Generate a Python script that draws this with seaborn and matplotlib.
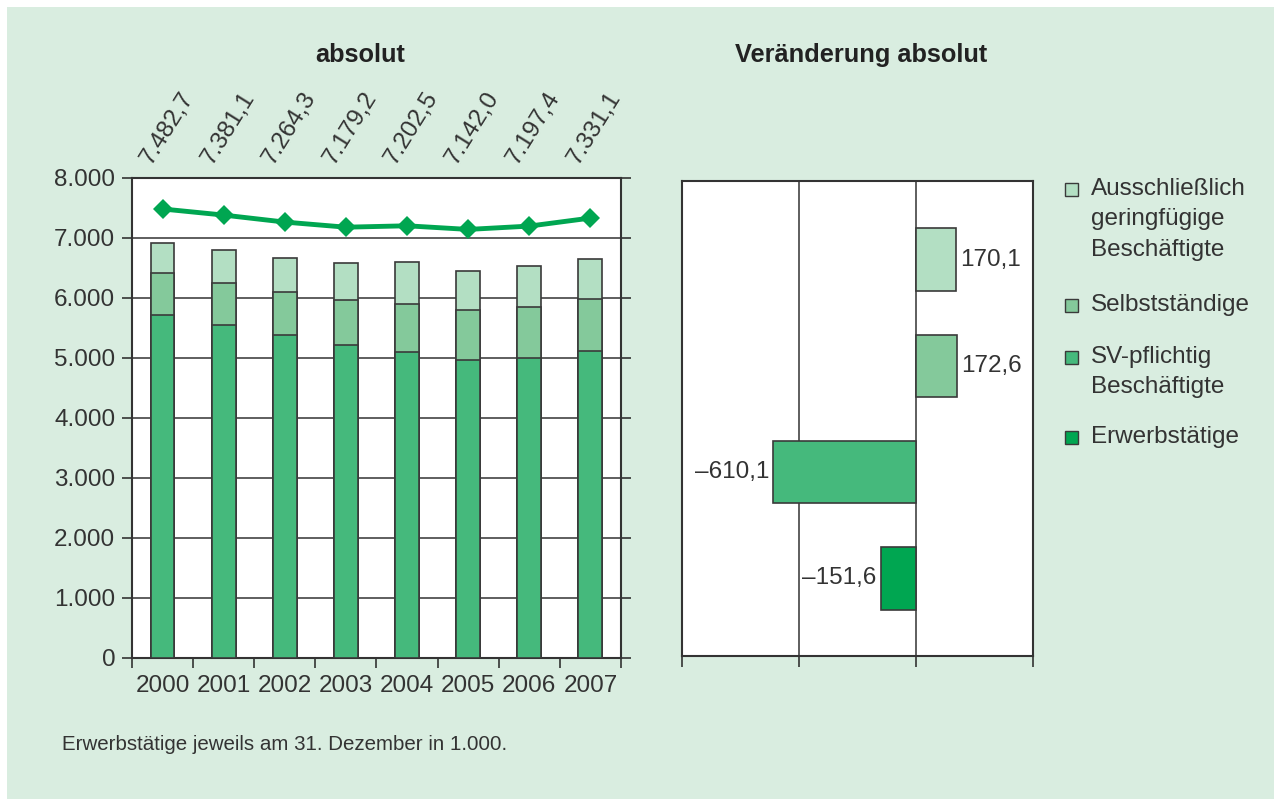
import matplotlib
matplotlib.use("Agg")
import matplotlib.pyplot as plt
import numpy as np
import pandas as pd
import seaborn as sns
from matplotlib.patches import Rectangle
from matplotlib.ticker import FuncFormatter, FixedLocator

# Erwerbstaetige in 1.000, jeweils am 31. Dezember
years = ["2000", "2001", "2002", "2003", "2004", "2005", "2006", "2007"]
sv_pflichtig = [5723, 5545, 5383, 5217, 5107, 4962, 5007, 5113]
selbststaendige = [689, 705, 717, 745, 788, 833, 843, 862]
geringfuegig = [511, 550, 573, 616, 700, 655, 678, 681]
erwerbstaetige = [7482.7, 7381.1, 7264.3, 7179.2, 7202.5, 7142.0, 7197.4, 7331.1]
erwerb_labels = ["7.482,7", "7.381,1", "7.264,3", "7.179,2",
                 "7.202,5", "7.142,0", "7.197,4", "7.331,1"]

# Veraenderung 2000-2007
change_cats = ["Ausschließlich\ngeringfügige\nBeschäftigte", "Selbstständige",
               "SV-pflichtig\nBeschäftigte", "Erwerbstätige"]
change_values = [170.1, 172.6, -610.1, -151.6]
change_labels = ["170,1", "172,6", "–610,1", "–151,6"]

colors = ["#b3dfc3", "#84c99b", "#45b97c", "#00a651"]
bg = "#d9ede0"
dark = "#333333"
edge = "#3a3a3a"
fs = 17.5

sns.set_style("white")
plt.rcParams["font.family"] = ["Liberation Sans", "DejaVu Sans"]
plt.rcParams["text.color"] = dark
plt.rcParams["axes.edgecolor"] = dark
plt.rcParams["xtick.color"] = dark
plt.rcParams["ytick.color"] = dark

fig = plt.figure(figsize=(12.74, 7.99), dpi=100, facecolor="white")
fig.add_artist(Rectangle((7 / 1274, 0), 1, 1 - 7 / 799, transform=fig.transFigure,
                         facecolor=bg, edgecolor="none", zorder=-10))

df = pd.DataFrame({"year": years, "sv": sv_pflichtig, "selbst": selbststaendige,
                   "gering": geringfuegig, "erwerb": erwerbstaetige})
df["top2"] = df["sv"] + df["selbst"]
df["top3"] = df["top2"] + df["gering"]

# ---- left: absolute values ----
ax1 = fig.add_axes([0.1036, 0.1765, 0.3838, 0.6008])
bar_kw = dict(width=0.39, edgecolor=edge, linewidth=1.2, zorder=3)
sns.barplot(data=df, x="year", y="top3", color=colors[0], saturation=1, ax=ax1, **bar_kw)
sns.barplot(data=df, x="year", y="top2", color=colors[1], saturation=1, ax=ax1, **bar_kw)
sns.barplot(data=df, x="year", y="sv", color=colors[2], saturation=1, ax=ax1, **bar_kw)
sns.pointplot(data=df, x="year", y="erwerb", color=colors[3], markers="D",
              markersize=10, linewidth=3.5, errorbar=None, ax=ax1, zorder=4)
for line in ax1.lines:
    line.set_markeredgewidth(0)
    line.set_zorder(4)

ax1.set_facecolor("white")
ax1.set_xlim(-0.5, 7.5)
ax1.set_ylim(0, 8000)
ax1.set_yticks(np.arange(0, 8001, 1000))
ax1.yaxis.set_major_formatter(FuncFormatter(lambda v, p: f"{v:,.0f}".replace(",", ".")))
ax1.grid(axis="y", color=dark, linewidth=1.1, zorder=1)
ax1.set_axisbelow(True)
ax1.xaxis.set_minor_locator(FixedLocator(np.arange(-0.5, 8, 1)))
ax1.tick_params(axis="x", which="major", length=0, pad=12, labelsize=fs)
ax1.tick_params(axis="x", which="minor", length=7, width=1.2, direction="out", bottom=True)
ax1.tick_params(axis="y", length=7, width=1.2, direction="out", left=True, right=True,
                pad=5, labelsize=fs)
ax1.set_xlabel("")
ax1.set_ylabel("")
for s in ax1.spines.values():
    s.set_visible(True)
    s.set_linewidth(1.5)
    s.set_color(dark)

for i, lab in enumerate(erwerb_labels):
    ax1.annotate(lab, (i, 8000), xytext=(-8.5, 9.0), textcoords="offset points",
                 rotation=58, rotation_mode="anchor", ha="left", va="baseline",
                 fontsize=fs, color=dark, annotation_clip=False)

# ---- right: change ----
ax2 = fig.add_axes([0.5351, 0.1790, 0.2760, 0.5945])
cdf = pd.DataFrame({"cat": change_cats, "value": change_values})
sns.barplot(data=cdf, x="value", y="cat", hue="cat", palette=colors, saturation=1,
            orient="h", width=0.59, edgecolor=edge, linewidth=1.2, legend=False,
            ax=ax2, zorder=3)
for cont, lab in zip(ax2.containers, change_labels):
    ax2.bar_label(cont, labels=[lab], padding=3, fontsize=fs, color=dark)

ax2.set_facecolor("white")
ax2.set_xlim(-1000, 500)
ax2.set_ylim(3.73, -0.74)
ax2.set_xticks([-1000, -500, 0, 500])
ax2.set_xticklabels([])
ax2.set_yticks([])
ax2.grid(axis="x", color=dark, linewidth=1.1, zorder=1)
ax2.set_axisbelow(True)
ax2.tick_params(axis="x", length=8, width=1.2, direction="out", bottom=True)
ax2.set_xlabel("")
ax2.set_ylabel("")
for s in ax2.spines.values():
    s.set_visible(True)
    s.set_linewidth(1.5)
    s.set_color(dark)

# ---- titles, legend, footnote ----
fig.text(360 / 1274, 1 - 55 / 799, "absolut", ha="center", va="center",
         fontsize=18.3, fontweight="bold", color="#222222")
fig.text(861 / 1274, 1 - 55 / 799, "Veränderung absolut", ha="center", va="center",
         fontsize=18.3, fontweight="bold", color="#222222")

cap_tops = [180, 296, 348, 428]
for lab, col, ct in zip(change_cats, colors, cap_tops):
    fig.add_artist(Rectangle((1065 / 1274, 1 - (ct + 16) / 799), 13 / 1274, 13 / 799,
                             transform=fig.transFigure, facecolor=col,
                             edgecolor=edge, linewidth=1))
    fig.text(1091 / 1274, 1 - (ct - 2) / 799, lab, ha="left", va="top",
             fontsize=fs, color=dark, linespacing=1.5)

fig.text(62 / 1274, 1 - 745 / 799, "Erwerbstätige jeweils am 31. Dezember in 1.000.",
         ha="left", va="center", fontsize=14.8, color=dark)

fig.savefig("out.png", dpi=100, facecolor=fig.get_facecolor())
